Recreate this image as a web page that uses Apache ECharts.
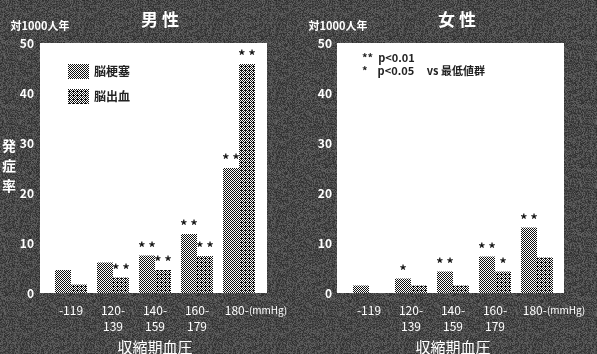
<!DOCTYPE html>
<html>
<head>
<meta charset="utf-8">
<script src="https://cdn.jsdelivr.net/npm/echarts@6/dist/echarts.min.js"></script>
<style>
  html, body { margin: 0; padding: 0; }
  #chart { width: 597px; height: 354px; }
</style>
</head>
<body>
<div id="chart"></div>
<script>
const categories = ['-119', '120-\n139', '140-\n159', '160-\n179', '{p|180-}{u|(mmHg)}'];
const seriesNames = ['脳梗塞', '脳出血'];

// 男性 (対1000人年)
const maleInfarction = [4.6, 6.1, 7.5, 11.8, 25.0];
const maleHemorrhage = [1.7, 3.1, 4.6, 7.4, 45.8];
const maleInfStars = ['', '', '**', '**', '**'];
const maleHemStars = ['', '**', '**', '**', '**'];

// 女性
const femaleInfarction = [1.5, 2.9, 4.3, 7.3, 13.1];
const femaleHemorrhage = [0, 1.5, 1.5, 4.3, 7.1];
const femaleInfStars = ['', '*', '**', '**', '**'];
const femaleHemStars = ['', '', '', '*', ''];

const yTicks = { min: 0, max: 50, interval: 10 };

const FONT = '"Noto Sans CJK JP", "Noto Sans", sans-serif';

// halftone-like fills
function makePattern(size, cells) {
  const c = document.createElement('canvas');
  c.width = size; c.height = size;
  const ctx = c.getContext('2d');
  ctx.fillStyle = '#fff';
  ctx.fillRect(0, 0, size, size);
  ctx.fillStyle = '#111';
  cells.forEach(([x, y]) => ctx.fillRect(x, y, 1, 1));
  return c;
}
const infPattern = makePattern(2, [[0, 0], [1, 1]]);
const hemPattern = makePattern(4, [[0, 0], [2, 0], [1, 1], [3, 1], [0, 2], [2, 2], [1, 3], [3, 3], [1, 2]]);

// noisy grey backdrop (deterministic hash)
function makeNoise() {
  const n = 64;
  const c = document.createElement('canvas');
  c.width = n; c.height = n;
  const ctx = c.getContext('2d');
  for (let y = 0; y < n; y++) {
    for (let x = 0; x < n; x++) {
      let h = (x * 374761393 + y * 668265263) | 0;
      h = Math.imul(h ^ (h >>> 13), 1274126177);
      const v = 45 + ((h >>> 0) % 55);
      ctx.fillStyle = `rgb(${v},${v},${v})`;
      ctx.fillRect(x, y, 1, 1);
    }
  }
  return c;
}

const chart = echarts.init(document.getElementById('chart'));

function starLabel(stars) {
  return {
    show: true,
    position: 'top',
    distance: 1,
    color: '#111',
    fontSize: 14,
    fontWeight: 'bold',
    fontFamily: FONT,
    formatter: (p) => stars[p.dataIndex].split('').join(' ')
  };
}

function barSeries(name, values, stars, idx, pattern) {
  return {
    name,
    type: 'bar',
    xAxisIndex: idx,
    yAxisIndex: idx,
    barWidth: 16,
    barGap: '0%',
    itemStyle: { color: { image: pattern, repeat: 'repeat' } },
    label: starLabel(stars),
    data: values
  };
}

function xAxisFor(idx) {
  return {
    type: 'category',
    gridIndex: idx,
    data: categories,
    axisLine: { show: false },
    axisTick: { show: false },
    axisLabel: {
      interval: 0,
      color: '#fff',
      fontSize: 12,
      lineHeight: 16,
      margin: 9,
      fontFamily: FONT,
      rich: {
        p: { color: '#fff', fontSize: 12, fontFamily: FONT, padding: [0, 0, 0, 34] },
        u: { color: '#fff', fontSize: 10, fontFamily: FONT }
      }
    },
    name: '収縮期血圧',
    nameLocation: 'middle',
    nameGap: 47,
    nameTextStyle: { color: '#fff', fontSize: 15, fontFamily: FONT }
  };
}

function yAxisFor(idx) {
  return {
    type: 'value',
    gridIndex: idx,
    min: yTicks.min,
    max: yTicks.max,
    interval: yTicks.interval,
    offset: 10,
    axisLine: { show: false },
    axisTick: { show: false },
    splitLine: { show: false },
    axisLabel: { color: '#fff', fontSize: 12, fontWeight: 'bold', margin: 6, fontFamily: FONT },
    name: '対1000人年',
    nameLocation: 'end',
    nameGap: 12,
    nameTextStyle: { color: '#fff', fontSize: 11, fontWeight: 'bold', fontFamily: FONT, align: 'center' }
  };
}

const option = {
  animation: false,
  backgroundColor: { image: makeNoise(), repeat: 'repeat' },
  title: [
    { text: '男 性', left: 155, top: 6, textAlign: 'center',
      textStyle: { color: '#fff', fontSize: 17, fontWeight: 'bold', fontFamily: FONT } },
    { text: '女 性', left: 452, top: 6, textAlign: 'center',
      textStyle: { color: '#fff', fontSize: 17, fontWeight: 'bold', fontFamily: FONT } }
  ],
  legend: {
    data: seriesNames,
    orient: 'vertical',
    icon: 'rect',
    left: 63,
    top: 59,
    itemWidth: 21,
    itemHeight: 15,
    itemGap: 10,
    textStyle: { color: '#222', fontSize: 12, fontWeight: 'bold', fontFamily: FONT }
  },
  graphic: [
    { type: 'rect', z: 0, shape: { x: 40, y: 43, width: 227, height: 250 }, style: { fill: '#fff' } },
    { type: 'rect', z: 0, shape: { x: 337, y: 43, width: 227, height: 250 }, style: { fill: '#fff' } },
    { type: 'text', left: 2, top: 136, z: 5,
      style: { text: '発\n症\n率', fill: '#fff', font: 'bold 14px ' + FONT, lineHeight: 20 } },
    { type: 'text', left: 362, top: 51, z: 5,
      style: { text: '**  p<0.01\n*    p<0.05     vs 最低値群', fill: '#222', font: 'bold 11px ' + FONT, lineHeight: 13 } }
  ],
  grid: [
    { left: 50, top: 43, width: 210, height: 250, outerBoundsMode: 'none' },
    { left: 348, top: 43, width: 210, height: 250, outerBoundsMode: 'none' }
  ],
  xAxis: [xAxisFor(0), xAxisFor(1)],
  yAxis: [yAxisFor(0), yAxisFor(1)],
  series: [
    barSeries(seriesNames[0], maleInfarction, maleInfStars, 0, infPattern),
    barSeries(seriesNames[1], maleHemorrhage, maleHemStars, 0, hemPattern),
    barSeries(seriesNames[0], femaleInfarction, femaleInfStars, 1, infPattern),
    barSeries(seriesNames[1], femaleHemorrhage, femaleHemStars, 1, hemPattern)
  ]
};

chart.setOption(option);
</script>
</body>
</html>
